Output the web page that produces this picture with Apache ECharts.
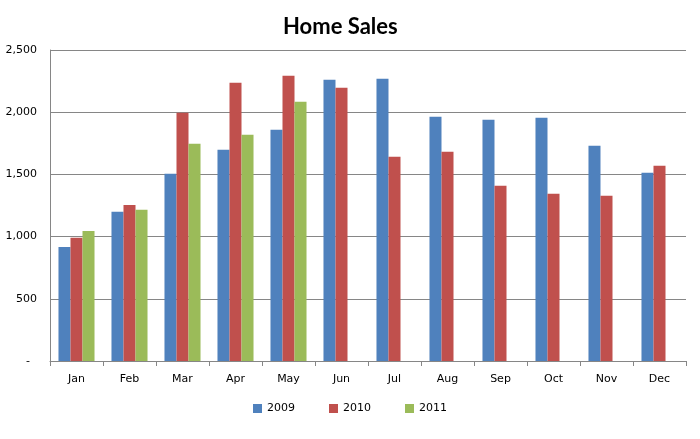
<!DOCTYPE html>
<html>
<head>
<meta charset="utf-8">
<script src="https://cdn.jsdelivr.net/npm/echarts@6/dist/echarts.min.js"></script>
<style>html,body{margin:0;padding:0;background:#fff}#c{width:700px;height:439px}</style>
</head>
<body>
<div id="c"></div>
<script>
const categories = ['Jan','Feb','Mar','Apr','May','Jun','Jul','Aug','Sep','Oct','Nov','Dec'];
const sales2009 = [917, 1199, 1505, 1698, 1859, 2261, 2269, 1963, 1939, 1955, 1730, 1513];
const sales2010 = [990, 1255, 1995, 2237, 2293, 2197, 1641, 1682, 1408, 1344, 1328, 1569];
const sales2011 = [1046, 1215, 1746, 1818, 2084, null, null, null, null, null, null, null];
const seriesNames = ['2009', '2010', '2011'];
const colors = ['#4F81BD', '#C0504D', '#9BBB59'];

const chart = echarts.init(document.getElementById('c'));
const font = 'DejaVu Sans, Verdana, sans-serif';
chart.setOption({
  animation: false,
  title: {
    text: 'Home Sales', left: 278, top: 11,
    textStyle: { fontFamily: 'Lato, Open Sans, sans-serif', fontWeight: 'bold', fontSize: 22, color: '#000' }
  },
  legend: {
    bottom: 20, left: 'center', itemWidth: 9, itemHeight: 9, itemGap: 34,
    icon: 'rect',
    textStyle: { fontFamily: font, fontSize: 11, color: '#000' },
    data: seriesNames
  },
  grid: { left: 50, right: 14, top: 50, bottom: 78, containLabel: false },
  xAxis: {
    type: 'category', data: categories,
    axisLine: { lineStyle: { color: '#868686' } },
    axisTick: { show: true, length: 5, interval: 0, lineStyle: { color: '#868686' } },
    axisLabel: { fontFamily: font, fontSize: 11, color: '#000', margin: 13, interval: 0 }
  },
  yAxis: {
    type: 'value', min: 0, max: 2500, interval: 500,
    axisLine: { show: true, lineStyle: { color: '#868686' } },
    axisTick: { show: false },
    splitLine: { lineStyle: { color: '#868686' } },
    axisLabel: {
      fontFamily: font, fontSize: 11, color: '#000', margin: 13,
      formatter: v => v === 0 ? '-  ' : v.toLocaleString('en-US')
    }
  },
  series: [sales2009, sales2010, sales2011].map((d, i) => ({
    name: seriesNames[i], type: 'bar', data: d,
    barGap: '0%', barCategoryGap: '32%',
    itemStyle: { color: colors[i] }
  }))
});
</script>
</body>
</html>
